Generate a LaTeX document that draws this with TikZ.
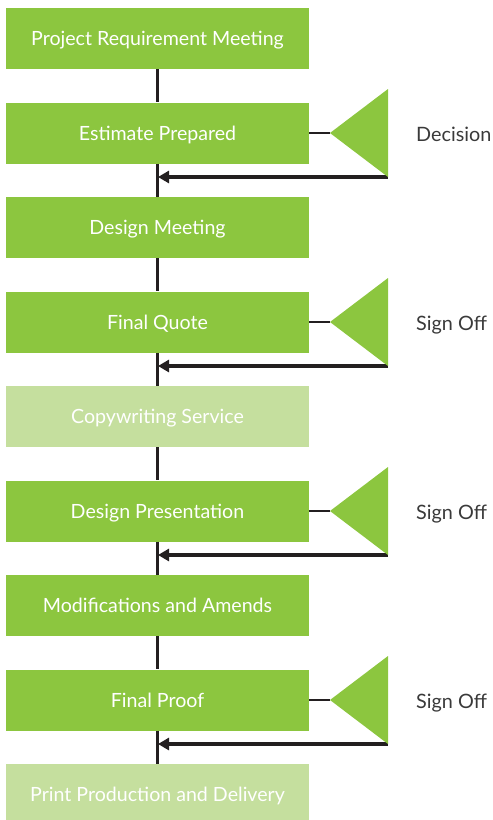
\documentclass[tikz,border=0pt]{standalone}
\usepackage{fontspec}
\setmainfont{Lato}
\usetikzlibrary{arrows.meta}
\definecolor{leaf}{HTML}{8CC63F}
\definecolor{paleleaf}{HTML}{C5DF9E}
\definecolor{ink}{HTML}{231F20}
\definecolor{labelgrey}{HTML}{3A3A3A}
\tikzset{
  stage/.style={fill=leaf, draw=none, minimum width=303pt, minimum height=61pt,
    inner sep=0pt, text=white, text height=17pt, text depth=3pt,
    font=\fontsize{19.6}{22}\selectfont},
  softstage/.style={stage, fill=paleleaf},
  spine/.style={draw=ink, line width=2.6pt},
  feedback/.style={draw=ink, line width=3.6pt, -{Triangle[length=11pt,width=12pt]}},
  gate/.style={fill=leaf, draw=none},
  gatelabel/.style={anchor=west, inner sep=0pt, text=labelgrey, text height=20pt,
    text depth=3pt, font=\fontsize{19.8}{22}\selectfont}
}
\begin{document}
\begin{tikzpicture}[x=1pt, y=-1pt]
\useasboundingbox (0,0) rectangle (493,820);
% process stages
\node[stage]     (b1) at (157.5, 38.5)  {Project Requirement Meeting};
\node[stage]     (b2) at (157.5, 133)   {Estimate Prepared};
\node[stage]     (b3) at (157.5, 227.5) {Design Meeting};
\node[stage]     (b4) at (157.5, 322)   {Final Quote};
\node[softstage] (b5) at (157.5, 416.5) {Copywriting Service};
\node[stage]     (b6) at (157.5, 511)   {Design Presentation};
\node[stage]     (b7) at (157.5, 605.5) {Modifications and Amends};
\node[stage]     (b8) at (157.5, 700)   {Final Proof};
\node[softstage] (b9) at (157.5, 794.5) {Print Production and Delivery};
% vertical spine
\foreach \a/\b in {b1/b2,b2/b3,b3/b4,b4/b5,b5/b6,b6/b7,b7/b8,b8/b9}
  \draw[spine] (\a.south) -- (\b.north);
% decision gates with their feedback arrows
\foreach \n/\y/\txt in {2/133/Decision, 4/322/Sign Off, 6/511/Sign Off, 8/700/Sign Off}{
  \coordinate (tip\n) at (330, \y);
  \coordinate (top\n) at (388, \y-44);
  \coordinate (bot\n) at (388, \y+44);
  \coordinate (back\n) at (158, \y+44);
  \draw[spine] (b\n.east) -- (tip\n);
  \draw[feedback] (bot\n) -- (back\n);
  \fill[gate] (tip\n) -- (top\n) -- (bot\n) -- cycle;
  \node[gatelabel] (g\n) at (416, \y) {\txt};
}
\end{tikzpicture}
\end{document}
